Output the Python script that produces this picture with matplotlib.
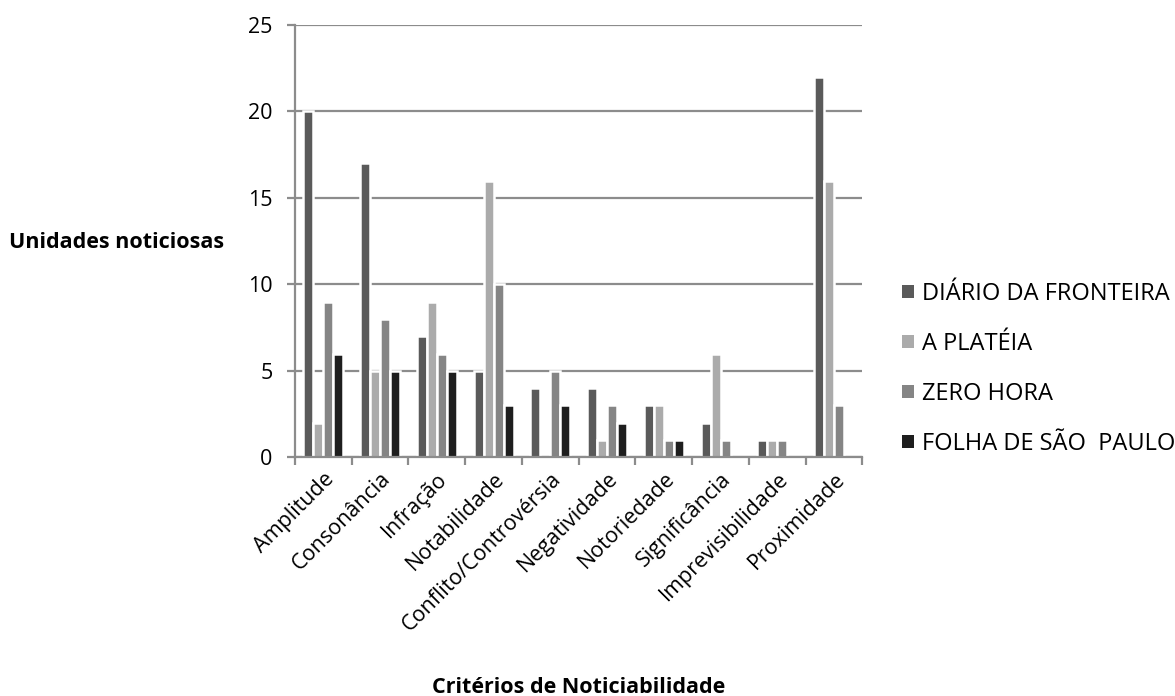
import numpy as np
import matplotlib
matplotlib.use("Agg")
import matplotlib.pyplot as plt

criterios = ["Amplitude", "Consonância", "Infração", "Notabilidade",
             "Conflito/Controvérsia", "Negatividade", "Notoriedade",
             "Significância", "Imprevisibilidade", "Proximidade"]

jornais = ["DIÁRIO DA FRONTEIRA", "A PLATÉIA", "ZERO HORA", "FOLHA DE SÃO  PAULO"]

diario_fronteira = [20, 17, 7, 5, 4, 4, 3, 2, 1, 22]
a_plateia = [2, 5, 9, 16, 0, 1, 3, 6, 1, 16]
zero_hora = [9, 8, 6, 10, 5, 3, 1, 1, 1, 3]
folha_sp = [6, 5, 5, 3, 3, 2, 1, 0, 0, 0]

cores = ["#5a5a5a", "#ababab", "#858585", "#1e1e1e"]
cinza = "#8c8c8c"

plt.rcParams['font.family'] = ['Open Sans', 'DejaVu Sans']

fig = plt.figure(figsize=(11.75, 6.96), dpi=100)
ax = fig.add_axes([0.251, 0.343, 0.483, 0.621])

series = [diario_fronteira, a_plateia, zero_hora, folha_sp]
x = np.arange(len(criterios))
slot = 0.176
for i, (vals, nome, cor) in enumerate(zip(series, jornais, cores)):
    offs = (i - 1.5) * slot
    ax.bar(x + offs, vals, width=slot, color=cor, edgecolor="white",
           linewidth=1.8, label=nome, zorder=2)

ax.set_xlim(-0.5, len(criterios) - 0.5)
ax.set_ylim(0, 25)
ax.set_yticks(range(0, 26, 5))
ax.yaxis.grid(True, color=cinza, linewidth=1.6, zorder=0)
ax.set_axisbelow(True)

ax.set_xticks(x)
ax.set_xticklabels(criterios, rotation=45, ha="right", rotation_mode="anchor",
                   fontsize=15.5)
ax.tick_params(axis="x", length=0, pad=8)
ax.set_xticks(np.arange(-0.5, len(criterios)), minor=True)
ax.tick_params(axis="x", which="minor", length=6, color=cinza, width=1.6)
ax.tick_params(axis="y", length=6, color=cinza, width=1.6, labelsize=15.5, pad=10)

for side in ["top", "right"]:
    ax.spines[side].set_visible(False)
for side in ["left", "bottom"]:
    ax.spines[side].set_color(cinza)
    ax.spines[side].set_linewidth(1.6)

fig.text(0.008, 0.651, "Unidades noticiosas", fontsize=15.5, fontweight="bold",
         ha="left", va="center")
fig.text(0.4925, 0.004, "Critérios de Noticiabilidade", fontsize=15.5,
         fontweight="bold", ha="center", va="baseline")

leg = ax.legend(loc="center left", bbox_to_anchor=(1.07, 0.205), frameon=False,
                fontsize=17, handlelength=0.5, handleheight=0.5,
                handletextpad=0.35, labelspacing=1.1, borderaxespad=0,
                borderpad=0)
for h in leg.legend_handles:
    h.set_edgecolor("none")

fig.savefig("out.png", dpi=100)
